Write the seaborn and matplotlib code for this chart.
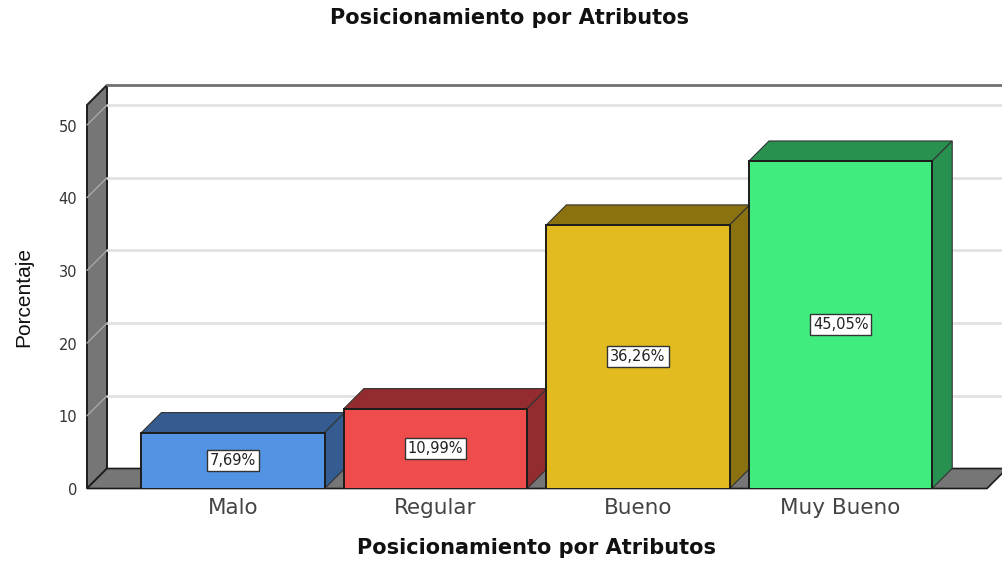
#!/usr/bin/env python3
import pandas as pd
import matplotlib
matplotlib.use("Agg")
import matplotlib.pyplot as plt
from matplotlib.patches import Polygon
from matplotlib.transforms import ScaledTranslation
import seaborn as sns

categories = ["Malo", "Regular", "Bueno", "Muy Bueno"]
values = [7.69, 10.99, 36.26, 45.05]
value_labels = ["7,69%", "10,99%", "36,26%", "45,05%"]
front_colors = ["#5294E3", "#EF4C4C", "#E1BB1F", "#41EC7E"]
dark_colors = ["#345C91", "#932C2E", "#8B7210", "#28914F"]
y_ticks = [0, 10, 20, 30, 40, 50]

FIG_W, FIG_H = 1003, 562
PX_PER_CAT = 202.5
PX_PER_UNIT = 7.27
DEPTH_PX = 20
WALL = "#767676"
EDGE = "#1c1c1c"

sns.set_theme(style="white")
plt.rcParams["font.family"] = ["DejaVu Sans"]

df = pd.DataFrame({"cat": categories, "pct": values})

fig = plt.figure(figsize=(FIG_W / 100, FIG_H / 100), dpi=100)
ax = fig.add_axes([87 / FIG_W, (FIG_H - 488.5) / FIG_H, 900 / FIG_W, 383.5 / FIG_H])
ax.patch.set_visible(False)
sns.despine(ax=ax, left=True, bottom=True)

sns.barplot(data=df, x="cat", y="pct", hue="cat", palette=front_colors, order=categories,
            saturation=1, width=0.905, legend=False, edgecolor=EDGE, linewidth=1.4, ax=ax)

x0, x1 = -0.721, 3.723
top = 383.5 / PX_PER_UNIT
ax.set_xlim(x0, x1)
ax.set_ylim(0, top)

# 3d offset in data units
dx = DEPTH_PX / PX_PER_CAT
dy = DEPTH_PX / PX_PER_UNIT

# left wall, floor, and back wall lines
ax.add_patch(Polygon([(x0, 0), (x0 + dx, dy), (x0 + dx, top + dy), (x0, top)],
                     facecolor=WALL, edgecolor=EDGE, linewidth=1.4, clip_on=False, zorder=1))
ax.add_patch(Polygon([(x0, 0), (x1, 0), (x1 + dx, dy), (x0 + dx, dy)],
                     facecolor=WALL, edgecolor=EDGE, linewidth=1.2, clip_on=False, zorder=1))
ax.plot([x0 + dx, x1 + dx], [top + dy, top + dy], color="#707070", lw=2, clip_on=False, zorder=1)
for t in y_ticks[1:]:
    ax.plot([x0 + dx, x1 + dx], [t + dy, t + dy], color="#e2e2e2", lw=2, clip_on=False, zorder=1.5)
    ax.plot([x0, x0 + dx], [t, t + dy], color="#a8a8a8", lw=1, clip_on=False, zorder=1.5)

# bars: top and side faces from the patches seaborn drew
bars = [b for c in ax.containers for b in c]
for i, bar in enumerate(bars):
    left, right, h = bar.get_x(), bar.get_x() + bar.get_width(), bar.get_height()
    bar.set_zorder(4 + 2 * i)
    ax.add_patch(Polygon([(left, h), (right, h), (right + dx, h + dy), (left + dx, h + dy)],
                         facecolor=dark_colors[i], edgecolor="#333333", linewidth=0.8,
                         clip_on=False, zorder=3 + 2 * i))
    ax.add_patch(Polygon([(right, 0), (right + dx, dy), (right + dx, h + dy), (right, h)],
                         facecolor=dark_colors[i], edgecolor="#333333", linewidth=0.8,
                         clip_on=False, zorder=3 + 2 * i))
    ax.text((left + right) / 2, h / 2, value_labels[i], ha="center", va="center",
            fontsize=10.5, color="#222222", zorder=20,
            bbox=dict(boxstyle="square,pad=0.2", facecolor="white", edgecolor="#333333", linewidth=1))

ax.set_yticks(y_ticks)
ax.tick_params(axis="y", length=0, pad=7, labelsize=10.5, labelcolor="#333333")
ax.tick_params(axis="x", length=0, pad=7, labelsize=15.5, labelcolor="#444444")
shift = ScaledTranslation(0, -2 / 100, fig.dpi_scale_trans)
for lab in ax.get_yticklabels():
    lab.set_va("center")
    lab.set_transform(lab.get_transform() + shift)

ax.set_xlabel("Posicionamiento por Atributos", fontsize=15, fontweight="bold",
              color="#111111", labelpad=14)
ax.set_ylabel("Porcentaje", fontsize=15, family="Liberation Sans", color="#111111", labelpad=18.5)
fig.suptitle("Posicionamiento por Atributos", x=510 / FIG_W, y=1 - 18 / FIG_H, va="center",
             fontsize=15, fontweight="bold", color="#111111")

fig.savefig("out.png", dpi=100)
